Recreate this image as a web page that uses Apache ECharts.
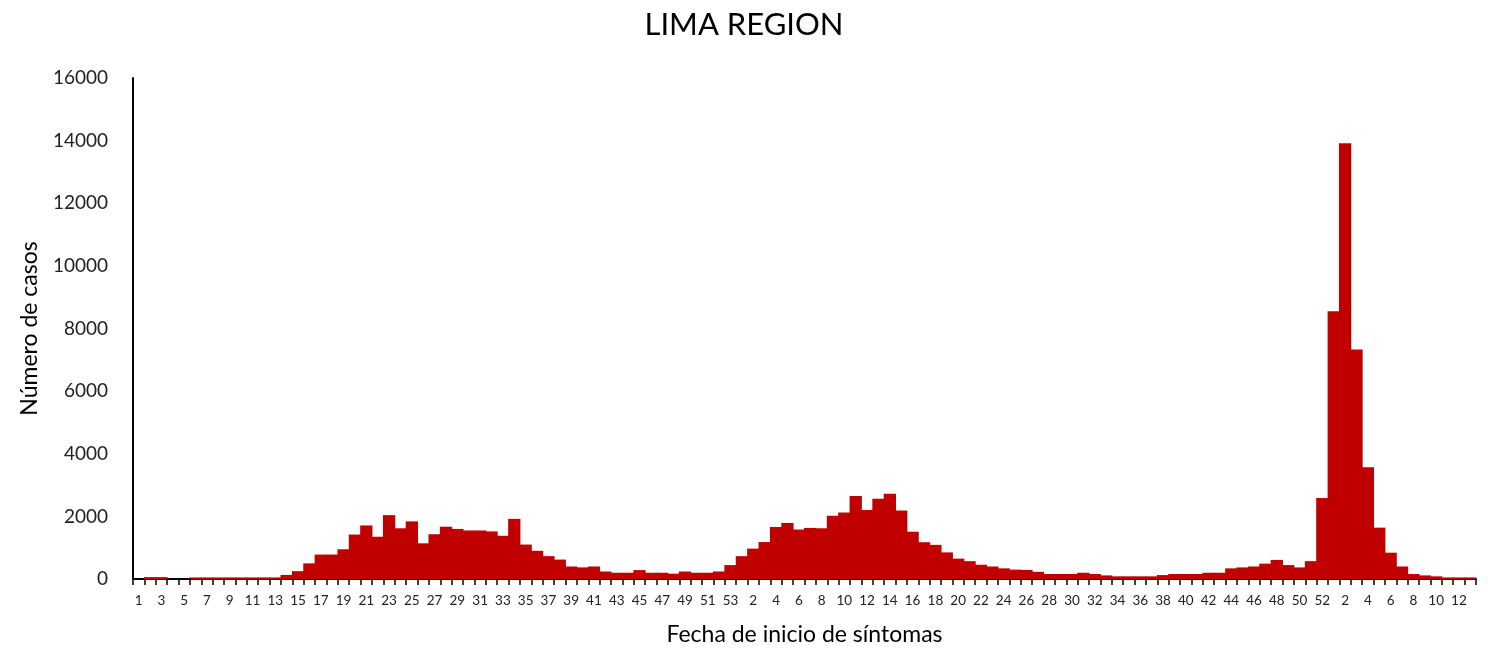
<!DOCTYPE html>
<html>
<head>
<meta charset="utf-8">
<script src="https://cdn.jsdelivr.net/npm/echarts@6/dist/echarts.min.js"></script>
<style>html,body{margin:0;padding:0;background:#fff}#c{width:1488px;height:651px}</style>
</head>
<body>
<div id="c"></div>
<script>
const weeks2020 = Array.from({length:53},(_, i)=>String(i+1));
const weeks2021 = Array.from({length:52},(_, i)=>String(i+1));
const weeks2022 = Array.from({length:13},(_, i)=>String(i+1));
const categories = weeks2020.concat(weeks2021, weeks2022);

const cases2020 = [0,60,60,0,0,50,50,50,50,50,50,50,50,130,250,500,780,780,950,1420,
  1710,1350,2040,1620,1840,1140,1430,1670,1600,1550,1550,1520,1380,1920,1100,900,730,620,400,370,
  400,240,200,200,285,200,200,170,240,200,200,240,445];
const cases2021 = [730,970,1180,1660,1790,1580,1630,1620,2020,2120,2650,2200,2560,2720,2190,1510,1175,1090,850,650,
  570,455,400,340,300,290,230,160,160,160,200,160,115,85,85,85,85,125,160,160,
  160,200,200,340,370,400,490,610,445,370,570,2590];
const cases2022 = [8550,13920,7330,3570,1640,840,400,160,115,85,50,50,50];
const values = cases2020.concat(cases2021, cases2022);

const chart = echarts.init(document.getElementById('c'), null, {renderer:'canvas'});
const font = 'Lato, "Open Sans", sans-serif';
chart.setOption({
  animation:false,
  title:{text:'LIMA REGION', left:'center', top:4, textStyle:{fontFamily:font, fontSize:31, fontWeight:'normal', color:'#000'}},
  grid:{left:133, right:12, top:78, bottom:69, containLabel:false},
  xAxis:{
    type:'category', data:categories, boundaryGap:true,
    name:'Fecha de inicio de síntomas', nameLocation:'middle', nameGap:44,
    nameTextStyle:{fontFamily:font, fontSize:23, color:'#000'},
    axisLine:{lineStyle:{color:'#000', width:2}},
    axisTick:{show:true, interval:0, length:6, lineStyle:{color:'#000', width:1.5}},
    axisLabel:{interval:1, fontFamily:font, fontSize:13.5, color:'#222', margin:15}
  },
  yAxis:{
    type:'value', min:0, max:16000, interval:2000,
    name:'Número de casos', nameLocation:'middle', nameGap:92,
    nameTextStyle:{fontFamily:font, fontSize:23, color:'#000'},
    axisLine:{show:true, lineStyle:{color:'#000', width:2}},
    axisTick:{show:false},
    splitLine:{show:false},
    axisLabel:{fontFamily:font, fontSize:19, color:'#222', margin:25, formatter:(v)=>String(v)}
  },
  series:[{type:'bar', data:values, barWidth:'108%', itemStyle:{color:'#C00000'}}]
});
</script>
</body>
</html>
